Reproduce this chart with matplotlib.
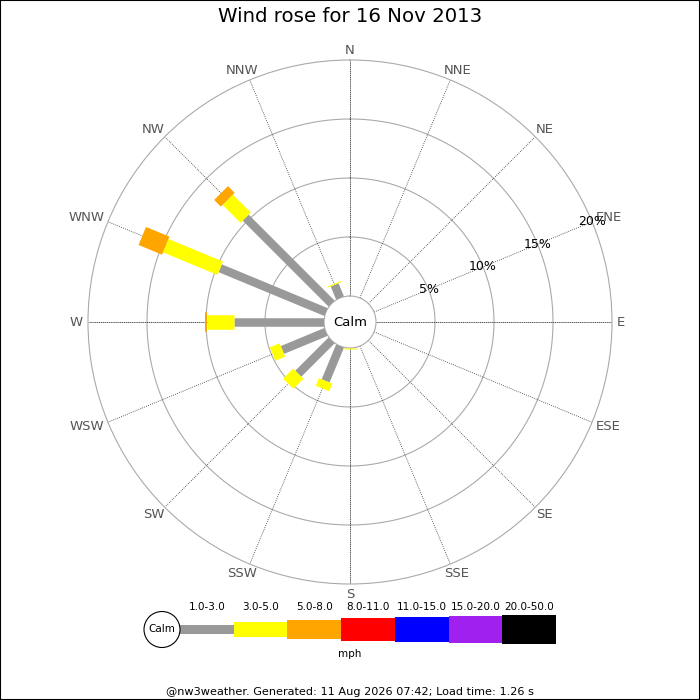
import numpy as np
import matplotlib
matplotlib.use("Agg")
import matplotlib.pyplot as plt
from matplotlib.patches import Circle, Rectangle

# ---------------- data ----------------
directions = ["N", "NNE", "NE", "ENE", "E", "ESE", "SE", "SSE",
              "S", "SSW", "SW", "WSW", "W", "WNW", "NW", "NNW"]
bands = ["1.0-3.0", "3.0-5.0", "5.0-8.0", "8.0-11.0", "11.0-15.0", "15.0-20.0", "20.0-50.0"]
band_colors = ["#999999", "#ffff00", "#ffa500", "#ff0000", "#0000ff", "#a020f0", "#000000"]
# percent of time per direction for each speed band
pct_1_3 = [0, 0, 0, 0, 0, 0, 0, 0, 0.0, 3.2, 4.0, 4.0, 7.6, 9.7, 10.3, 1.2]
pct_3_5 = [0, 0, 0, 0, 0, 0, 0, 0, 0.1, 0.7, 1.2, 0.9, 2.3, 5.0, 2.15, 0.1]
pct_5_8 = [0, 0, 0, 0, 0, 0, 0, 0, 0.0, 0.0, 0.0, 0.0, 0.15, 2.15, 0.8, 0.0]
pct_8_11 = [0] * 16
pct_11_15 = [0] * 16
pct_15_20 = [0] * 16
pct_20_50 = [0] * 16
ring_values = [5, 10, 15, 20]
title = "Wind rose for 16 Nov 2013"
unit = "mph"
footer = "@nw3weather. Generated: 11 Aug 2026 07:42; Load time: 1.26 s"

series = [pct_1_3, pct_3_5, pct_5_8, pct_8_11, pct_11_15, pct_15_20, pct_20_50]

# ---------------- styles ----------------
W = H = 700
DPI = 100
band_width_px = [8.5, 14.5, 19.5, 23, 25, 26.7, 28.3]
px2pt = 72.0 / DPI
ring_col = "#aaaaaa"
label_col = "#555555"

fig = plt.figure(figsize=(W / DPI, H / DPI), dpi=DPI)
fig.patch.set_facecolor("white")

# rose axes: centre (350,322) px, outer radius 262 px, calm radius 26 px
cx, cy, R, r0 = 350, 322, 262, 26
rmax = ring_values[-1]
ax = fig.add_axes([(cx - R) / W, (H - cy - R) / H, 2 * R / W, 2 * R / H], projection="polar")
ax.set_theta_zero_location("N")
ax.set_theta_direction(-1)
ax.set_ylim(0, rmax)
ax.set_rorigin(-rmax * r0 / (R - r0))
ax.grid(False)
ax.set_xticks([])
ax.set_yticks([])
for name, sp in ax.spines.items():
    if name in ("polar", "inner"):
        sp.set_color(ring_col)
        sp.set_linewidth(0.8)
    else:
        sp.set_visible(False)

angles = np.deg2rad(np.arange(16) * 22.5)
full = np.linspace(0, 2 * np.pi, 400)
for rv in ring_values[:-1]:
    ax.plot(full, np.full_like(full, rv), color=ring_col, lw=0.8, zorder=1)

# spokes
for i, th in enumerate(angles):
    ls = (0, (1.5, 0.8)) if i % 4 == 0 else (0, (1, 1.5))
    ax.plot([th, th], [0, rmax], color="#333333", lw=0.6, ls=ls, zorder=2)

# stacked bars
cum = np.zeros(16)
for k, vals in enumerate(series):
    vals = np.asarray(vals, dtype=float)
    for i, th in enumerate(angles):
        if vals[i] > 0:
            ax.plot([th, th], [cum[i], cum[i] + vals[i]], color=band_colors[k],
                    lw=band_width_px[k] * px2pt, solid_capstyle="butt", zorder=3 + k)
    cum += vals

# percentage labels along ENE
for rv in ring_values:
    ax.text(np.deg2rad(67.5), rv, f"{rv}%", ha="center", va="center",
            fontsize=9, color="black", zorder=20)

# calm
ax.text(0, ax.get_rorigin(), "Calm", ha="center", va="center", fontsize=9.5, zorder=20)

# direction labels
fig.canvas.draw()
renderer = fig.canvas.get_renderer()
gap = 5.0
for lab, th in zip(directions, angles):
    t = ax.annotate(lab, xy=(th, rmax), xytext=(0, 0), textcoords="offset points",
                    ha="center", va="center", fontsize=9.5, color=label_col,
                    annotation_clip=False)
    bb = t.get_window_extent(renderer)
    hw = bb.width / 2
    hh = 5.0
    s, c = np.sin(th), np.cos(th)
    t.xyann = ((gap + hw) * s * px2pt, (gap + hh) * c * px2pt)

# title
fig.text(0.5, 1 - 17 / H, title, ha="center", va="center", fontsize=14.2)

# legend
leg_cy = 629.5
lax = fig.add_axes([180 / W, (H - leg_cy - 20) / H, 376 / W, 40 / H])
lax.set_xlim(0, len(bands))
lax.set_ylim(-20, 20)
lax.axis("off")
hts = np.array(band_width_px)
lax.bar(np.arange(len(bands)), hts, bottom=-hts / 2, width=1, align="edge",
        color=band_colors, linewidth=0)
for i, b in enumerate(bands):
    lax.text(i + 0.5, 22.5, b, ha="center", va="center", fontsize=7.5, clip_on=False)
fig.text(0.5, 1 - 654 / H, unit, ha="center", va="center", fontsize=7.5)
fig.patches.append(Circle((162 / W, 1 - leg_cy / H), 18 / W, transform=fig.transFigure,
                          facecolor="white", edgecolor="black", lw=0.8))
fig.text(162 / W, 1 - leg_cy / H, "Calm", ha="center", va="center", fontsize=7.5)

# footer
fig.text(0.5, 1 - 692 / H, footer, ha="center", va="center", fontsize=8.1)

# frame
fig.patches.append(Rectangle((0, 0), 1, 1, transform=fig.transFigure, fill=False,
                             edgecolor="black", lw=1.5))

fig.savefig("out.png", dpi=DPI)
